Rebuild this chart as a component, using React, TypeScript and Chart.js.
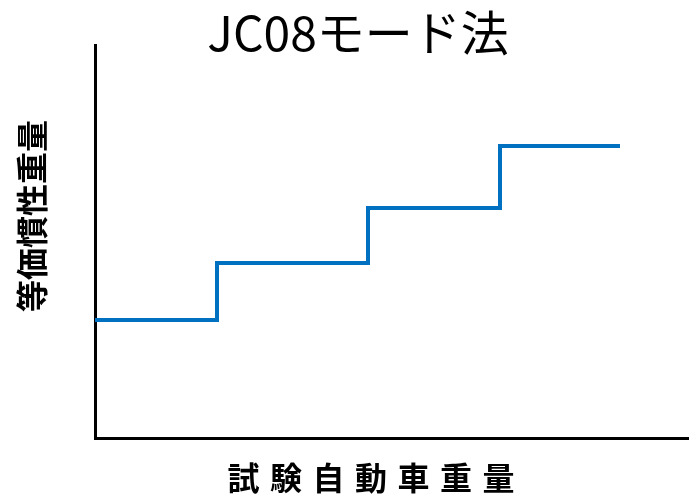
import React, { useEffect, useRef } from "react";
import { Chart, registerables } from "chart.js";

Chart.register(...registerables);

const stepStarts = [0, 122, 273, 405, 525];
const inertiaLevels = [118, 175, 230, 292, 292];
const chartTitle = "JC08モード法";
const xTitle = "試験自動車重量";
const yTitle = "等価慣性重量";

const FONT = '"Noto Sans CJK JP", "Noto Sans", sans-serif';

const textPlugin = {
  id: "texts",
  afterDraw(chart: any) {
    const { ctx } = chart;
    ctx.save();
    ctx.fillStyle = "#000";
    ctx.textAlign = "center";
    ctx.textBaseline = "middle";
    // title
    ctx.font = `400 48px ${FONT}`;
    ctx.fillText(chartTitle, 358, 33);
    // x title, spaced characters
    ctx.font = `700 32px ${FONT}`;
    const adv = 42.5;
    const startX = 371 - ((xTitle.length - 1) * adv) / 2;
    for (let i = 0; i < xTitle.length; i++) {
      ctx.fillText(xTitle[i], startX + i * adv, 478);
    }
    // y title
    ctx.translate(32, 216);
    ctx.rotate(-Math.PI / 2);
    ctx.font = `700 32px ${FONT}`;
    ctx.fillText(yTitle, 0, 0);
    ctx.restore();
  },
};

export default function App() {
  const ref = useRef<HTMLCanvasElement>(null);
  useEffect(() => {
    document.body.style.margin = "0";
    const chart = new Chart(ref.current!, {
      type: "line",
      data: {
        datasets: [
          {
            data: stepStarts.map((x, i) => ({ x, y: inertiaLevels[i] })),
            borderColor: "#0070C0",
            borderWidth: 4,
            pointRadius: 0,
            stepped: true,
            fill: false,
          },
        ],
      },
      options: {
        animation: false,
        responsive: false,
        maintainAspectRatio: false,
        layout: { padding: { left: 87, top: 45, right: 0, bottom: 51 } },
        plugins: { legend: { display: false }, tooltip: { enabled: false }, title: { display: false } },
        scales: {
          x: {
            type: "linear",
            min: 0,
            max: 594,
            ticks: { display: false },
            grid: { display: false },
            border: { display: true, color: "#000", width: 3 },
          },
          y: {
            type: "linear",
            min: 0,
            max: 393,
            ticks: { display: false },
            grid: { display: false },
            border: { display: true, color: "#000", width: 3 },
          },
        },
      },
      plugins: [textPlugin],
    });
    return () => chart.destroy();
  }, []);
  return (
    <div style={{ width: 689, height: 497 }}>
      <canvas ref={ref} width={689} height={497} style={{ display: "block" }} />
    </div>
  );
}
